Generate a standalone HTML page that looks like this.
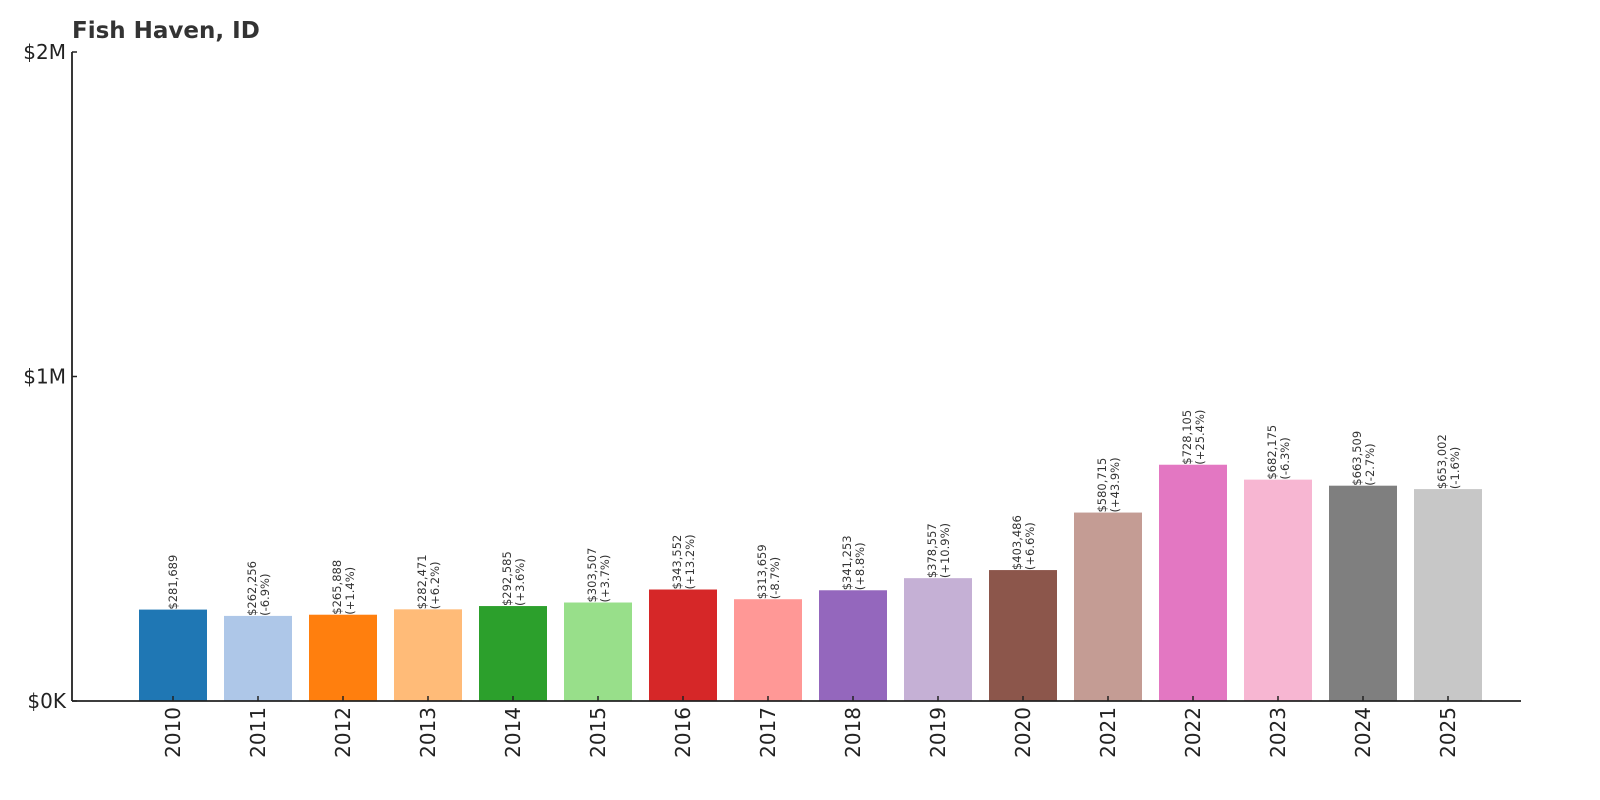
<!DOCTYPE html>
<html><head><meta charset="utf-8"><style>
html,body{margin:0;padding:0;background:#fff;}
svg{display:block;font-family:"DejaVu Sans","Liberation Sans",sans-serif;}
</style></head><body>
<svg id="chart" width="1600" height="800">
<text x="72" y="38" font-size="23" font-weight="bold" fill="#333">Fish Haven, ID</text>
</svg>
<script>
const years=["2010","2011","2012","2013","2014","2015","2016","2017","2018","2019","2020","2021","2022","2023","2024","2025"];
const values=[281689,262256,265888,282471,292585,303507,343552,313659,341253,378557,403486,580715,728105,682175,663509,653002];
const changes=["","-6.9%","+1.4%","+6.2%","+3.6%","+3.7%","+13.2%","-8.7%","+8.8%","+10.9%","+6.6%","+43.9%","+25.4%","-6.3%","-2.7%","-1.6%"];
const colors=["#1f77b4","#aec7e8","#ff7f0e","#ffbb78","#2ca02c","#98df8a","#d62728","#ff9896","#9467bd","#c5b0d5","#8c564b","#c49c94","#e377c2","#f7b6d2","#7f7f7f","#c7c7c7"];
const yTicks=[0,1000000,2000000];
const yTickLabels=["$0K","$1M","$2M"];
const NS="http://www.w3.org/2000/svg";
const svg=document.getElementById("chart");
const y0=701,yTop=52,yMax=2000000;
const y=v=>y0-(v/yMax)*(y0-yTop);
const x=i=>173+i*85;
const bw=68;
function mk(tag,attrs,parent){const e=document.createElementNS(NS,tag);for(const k in attrs)e.setAttribute(k,attrs[k]);(parent||svg).appendChild(e);return e;}
values.forEach((v,i)=>{
  const r=mk("rect",{x:x(i)-bw/2,y:y(v),width:bw,height:y0-y(v),fill:colors[i]});
  
  
  const g=mk("g",{transform:`translate(${x(i)},${y(v)}) rotate(-90)`});
  
  
  const t=mk("text",{x:0,y:0,"font-size":"11.5",fill:"#333"},g);
  const val="$"+v.toLocaleString("en-US");
  if(changes[i]){
    const a=mk("tspan",{x:0,y:-2},t);a.textContent=val;
    const b=mk("tspan",{x:0,y:11},t);b.textContent="("+changes[i]+")";
  } else {
    const a=mk("tspan",{x:0,y:4},t);a.textContent=val;
  }
  const tk=mk("line",{x1:x(i),x2:x(i),y1:y0,y2:y0-5,stroke:"#222","stroke-width":1.5});
  
  
  const yl=mk("text",{transform:`translate(${x(i)+7},707) rotate(-90)`,"text-anchor":"end","font-size":"20",fill:"#222"});
  
  
  yl.textContent=years[i];
});
yTicks.forEach((v,i)=>{
  const t=mk("text",{x:66,y:y(v)+7,"text-anchor":"end","font-size":"20",fill:"#222"});
  
  
  t.textContent=yTickLabels[i];
  const l=mk("line",{x1:72,x2:77,y1:y(v),y2:y(v),stroke:"#222","stroke-width":1.5});
  
  
});
const ya=mk("line",{x1:72,x2:72,y1:yTop,y2:y0,stroke:"#222","stroke-width":1.8});


const xa=mk("line",{x1:72,x2:1521,y1:y0,y2:y0,stroke:"#222","stroke-width":1.8});


</script>
</body></html>
